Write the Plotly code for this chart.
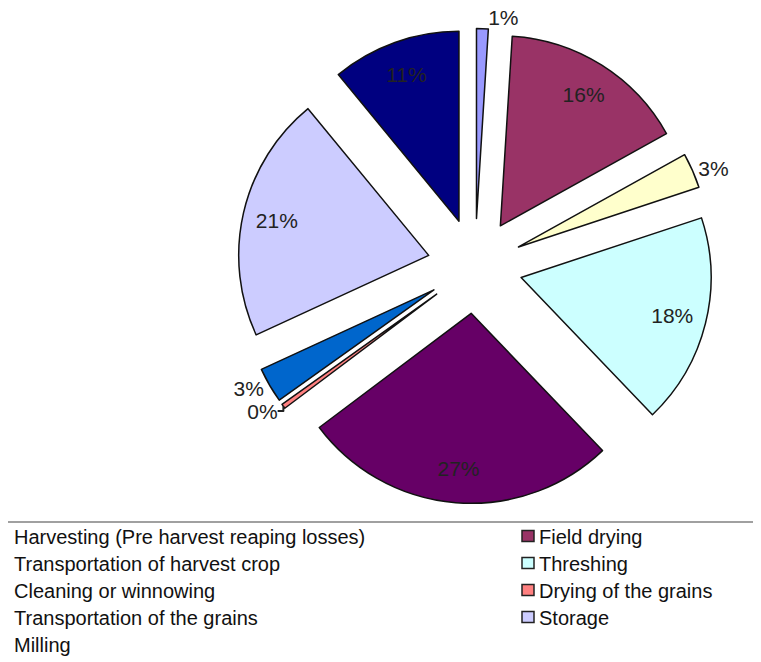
import plotly.graph_objects as go

# ---- data ----
categories = [
    "Harvesting (Pre harvest reaping losses)",
    "Field drying",
    "Transportation of harvest crop",
    "Threshing",
    "Cleaning or winnowing",
    "Drying of the grains",
    "Transportation of the grains",
    "Storage",
    "Milling",
]
loss_percent = [1, 16, 3, 18, 27, 0.4, 3, 21, 11]
slice_colors = ["#9999FF", "#993366", "#FFFFCC", "#CCFFFF", "#660066",
                "#FF8080", "#0066CC", "#CCCCFF", "#000080"]
label_inside = [False, True, False, True, True, False, False, True, True]

W, H = 761, 662
OFF = 8  # page offset of the plot div (body margin)
FONT = "Liberation Sans, Arial, sans-serif"

# pie geometry (screen pixels)
cx, cy, r, pull = 475 - OFF, 266 - OFF, 190, 0.25
box = 2 * r * (1 + pull)
domain = dict(x=[(cx - box / 2) / W, (cx + box / 2) / W],
              y=[(H - cy - box / 2) / H, (H - cy + box / 2) / H])
label_font = dict(family=FONT, size=21, color="#222222")

fig = go.Figure()
# main pie: slices + outside labels for small slices
fig.add_trace(go.Pie(
    labels=categories,
    values=loss_percent,
    sort=False,
    direction="clockwise",
    rotation=0,
    pull=pull,
    automargin=False,
    marker=dict(colors=slice_colors, line=dict(color="#111111", width=1.5)),
    texttemplate="%{percent:.0%}",
    textposition=["none" if v else "outside" for v in label_inside],
    textfont=label_font,
    outsidetextfont=label_font,
    domain=domain,
    showlegend=False,
    hoverinfo="label+percent",
))
# transparent ring overlay: places the inside labels near the outer rim
fig.add_trace(go.Pie(
    labels=categories,
    values=loss_percent,
    sort=False,
    direction="clockwise",
    rotation=0,
    pull=pull,
    hole=0.64,
    automargin=False,
    marker=dict(colors=["rgba(0,0,0,0)"] * len(categories),
                line=dict(width=0)),
    texttemplate="%{percent:.0%}",
    textposition=["inside" if v else "none" for v in label_inside],
    insidetextorientation="horizontal",
    insidetextfont=label_font,
    domain=domain,
    showlegend=False,
    hoverinfo="skip",
))

# ---- custom legend (two columns, row-major) ----
row_y0 = 536.5 - OFF
row_step = 27
left_x = 12 - OFF
marker_x = 522 - OFF
text_x2 = 537 - OFF
line_y = 522 - OFF
shapes = [dict(type="line", xref="paper", yref="paper",
               x0=0.0, x1=1.0, y0=1 - line_y / H, y1=1 - line_y / H,
               line=dict(color="#A0A0A0", width=2))]
annotations = []
for i, name in enumerate(categories):
    row, col = divmod(i, 2)
    yc = row_y0 + row * row_step
    if col == 0:
        tx = left_x
    else:
        tx = text_x2
        shapes.append(dict(type="rect", xref="paper", yref="paper",
                           x0=marker_x / W, x1=(marker_x + 12) / W,
                           y0=1 - (yc + 5) / H, y1=1 - (yc - 6) / H,
                           fillcolor=slice_colors[i],
                           line=dict(color="#222222", width=1.5)))
    annotations.append(dict(text=name, xref="paper", yref="paper",
                            x=tx / W, y=1 - yc / H, xanchor="left",
                            yanchor="middle", showarrow=False,
                            font=dict(family=FONT, size=20, color="#111111")))

fig.update_layout(
    width=W, height=H,
    autosize=False,
    showlegend=False,
    margin=dict(l=0, r=0, t=0, b=0, pad=0, autoexpand=False),
    paper_bgcolor="white",
    plot_bgcolor="white",
    shapes=shapes,
    annotations=annotations,
)

fig.write_html("out.html")
